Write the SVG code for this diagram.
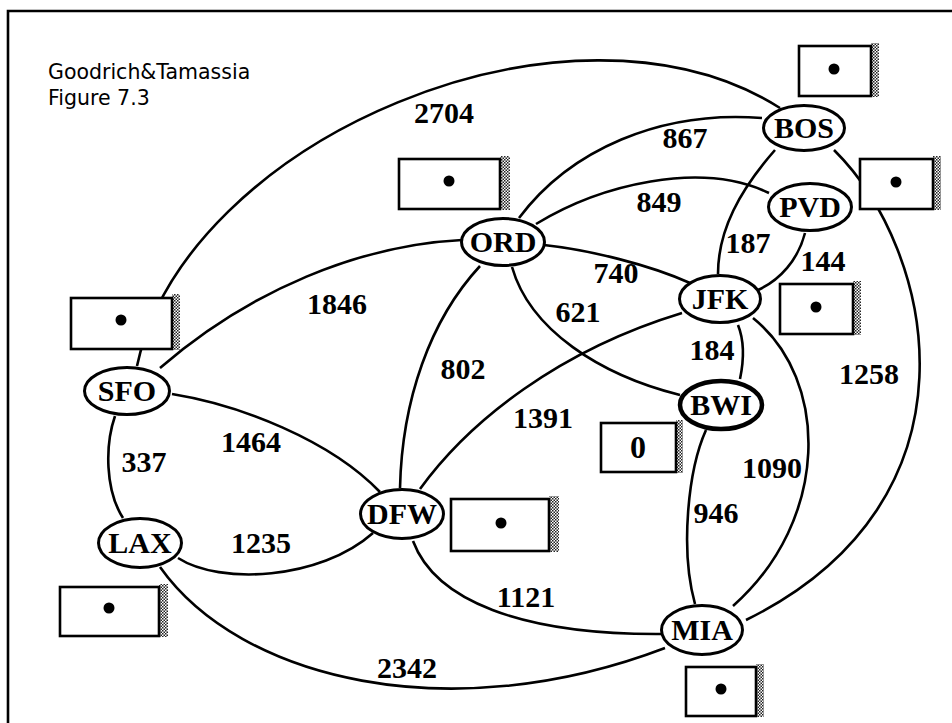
<svg xmlns="http://www.w3.org/2000/svg" width="952" height="723" viewBox="0 0 952 723">
<defs>
<pattern id="stip" width="3" height="3" patternUnits="userSpaceOnUse">
<rect x="0" y="0" width="3" height="3" fill="#fff"/>
<rect x="0" y="0" width="1.5" height="1.5" fill="#222"/>
<rect x="1.5" y="1.5" width="1.5" height="1.5" fill="#222"/>
</pattern>
</defs>
<style>
.frame{stroke:#000;stroke-width:2.6;fill:none}
.edge{stroke:#000;stroke-width:2.6;fill:none}
.node ellipse{fill:#fff;stroke:#000;stroke-width:3}
.node text,.lbl{font-family:"Liberation Serif","Times New Roman",serif;font-weight:bold;font-size:30px;fill:#000;text-anchor:middle}
.box rect.b{fill:#fff;stroke:#000;stroke-width:2.6}
.box rect.s{fill:url(#stip);stroke:none}
.box circle{fill:#000}
.box text{font-family:"Liberation Serif","Times New Roman",serif;font-weight:bold;font-size:32px;fill:#000;text-anchor:middle}
.title{font-family:"DejaVu Sans",Verdana,sans-serif;font-size:20.5px;fill:#000}
</style>
<rect x="0" y="0" width="952" height="723" fill="#fff"/>
<path class="frame" d="M8,723 V11 H952"/>
<text class="title" x="48" y="79">Goodrich&amp;Tamassia</text>
<text class="title" x="48" y="105">Figure 7.3</text>

<g id="connectors">
<path class="edge" d="M137,366 C185,140 570,-25 780,108"/>
<path class="edge" d="M160,368 C250,290 360,245 462,240"/>
<path class="edge" d="M172,394 C240,405 330,440 380,492"/>
<path class="edge" d="M115,416 C105,445 105,490 123,518"/>
<path class="edge" d="M178,558 C220,585 320,580 373,533"/>
<path class="edge" d="M160,567 C240,680 450,730 665,648"/>
<path class="edge" d="M400,488 C402,400 430,320 480,266"/>
<path class="edge" d="M420,489 C470,420 560,350 682,313"/>
<path class="edge" d="M413,541 C435,600 520,635 662,634"/>
<path class="edge" d="M519,218 C570,150 660,110 762,118"/>
<path class="edge" d="M536,224 C600,185 700,160 769,193"/>
<path class="edge" d="M544,245 C590,250 650,265 690,283"/>
<path class="edge" d="M512,267 C530,330 600,375 680,395"/>
<path class="edge" d="M775,150 C740,190 718,230 718,274"/>
<path class="edge" d="M834,150 C935,250 990,500 746,620"/>
<path class="edge" d="M805,233 C798,260 780,280 758,290"/>
<path class="edge" d="M738,325 C744,340 744,360 740,379"/>
<path class="edge" d="M753,318 C830,380 830,520 733,606"/>
<path class="edge" d="M706,430 C688,470 680,550 695,604"/>
</g>

<g id="edge-labels">
<text class="lbl" x="444" y="123">2704</text>
<text class="lbl" x="337" y="314">1846</text>
<text class="lbl" x="685" y="148">867</text>
<text class="lbl" x="659" y="212">849</text>
<text class="lbl" x="748" y="253">187</text>
<text class="lbl" x="823" y="271">144</text>
<text class="lbl" x="616" y="283">740</text>
<text class="lbl" x="578" y="322">621</text>
<text class="lbl" x="712" y="360">184</text>
<text class="lbl" x="463" y="379">802</text>
<text class="lbl" x="543" y="428">1391</text>
<text class="lbl" x="251" y="452">1464</text>
<text class="lbl" x="144" y="472">337</text>
<text class="lbl" x="261" y="553">1235</text>
<text class="lbl" x="407" y="678">2342</text>
<text class="lbl" x="869" y="384">1258</text>
<text class="lbl" x="772" y="478">1090</text>
<text class="lbl" x="716" y="523">946</text>
<text class="lbl" x="526" y="607">1121</text>
</g>

<g id="node-BOS" class="node"><ellipse cx="804" cy="128" rx="40.5" ry="22.5"/><text x="804" y="138">BOS</text></g>
<g id="node-PVD" class="node"><ellipse cx="810" cy="207" rx="41.5" ry="23.5"/><text x="810" y="217">PVD</text></g>
<g id="node-ORD" class="node"><ellipse cx="503" cy="242" rx="41.5" ry="23.5"/><text x="503" y="252">ORD</text></g>
<g id="node-JFK" class="node"><ellipse cx="720" cy="299" rx="40.5" ry="23.5"/><text x="720" y="309">JFK</text></g>
<g id="node-BWI" class="node"><ellipse cx="721" cy="405" rx="41" ry="24" style="stroke-width:4.5"/><text x="721" y="415">BWI</text></g>
<g id="node-SFO" class="node"><ellipse cx="127" cy="391" rx="42.5" ry="23.5"/><text x="127" y="401">SFO</text></g>
<g id="node-LAX" class="node"><ellipse cx="140" cy="543" rx="41.5" ry="24.5"/><text x="140" y="553">LAX</text></g>
<g id="node-DFW" class="node"><ellipse cx="402" cy="514" rx="41.5" ry="24.5"/><text x="402" y="524">DFW</text></g>
<g id="node-MIA" class="node"><ellipse cx="702" cy="630" rx="40.5" ry="24.5"/><text x="702" y="640">MIA</text></g>

<g id="box-BOS" class="box"><rect class="s" x="871" y="43" width="8" height="54"/><rect class="b" x="799" y="46" width="72" height="50"/><circle cx="834" cy="69" r="5.5"/></g>
<g id="box-PVD" class="box"><rect class="s" x="933" y="156" width="8" height="54"/><rect class="b" x="860" y="159" width="73" height="50"/><circle cx="896" cy="182" r="5.5"/></g>
<g id="box-ORD" class="box"><rect class="s" x="500" y="156" width="10" height="54"/><rect class="b" x="399" y="159" width="101" height="50"/><circle cx="449" cy="181" r="5.5"/></g>
<g id="box-JFK" class="box"><rect class="s" x="853" y="281" width="8" height="54"/><rect class="b" x="780" y="284" width="73" height="50"/><circle cx="816" cy="307" r="5.5"/></g>
<g id="box-SFO" class="box"><rect class="s" x="172" y="294" width="8" height="56"/><rect class="b" x="71" y="298" width="101" height="51"/><circle cx="121" cy="320" r="5.5"/></g>
<g id="box-BWI" class="box"><rect class="s" x="676" y="420" width="7" height="53"/><rect class="b" x="601" y="423" width="75" height="49"/><text x="638" y="458">0</text></g>
<g id="box-DFW" class="box"><rect class="s" x="549" y="496" width="10" height="56"/><rect class="b" x="451" y="499" width="98" height="52"/><circle cx="501" cy="523" r="5.5"/></g>
<g id="box-LAX" class="box"><rect class="s" x="159" y="584" width="9" height="53"/><rect class="b" x="60" y="587" width="99" height="49"/><circle cx="109" cy="608" r="5.5"/></g>
<g id="box-MIA" class="box"><rect class="s" x="756" y="664" width="8" height="53"/><rect class="b" x="686" y="667" width="70" height="49"/><circle cx="721" cy="689" r="5.5"/></g>
</svg>
